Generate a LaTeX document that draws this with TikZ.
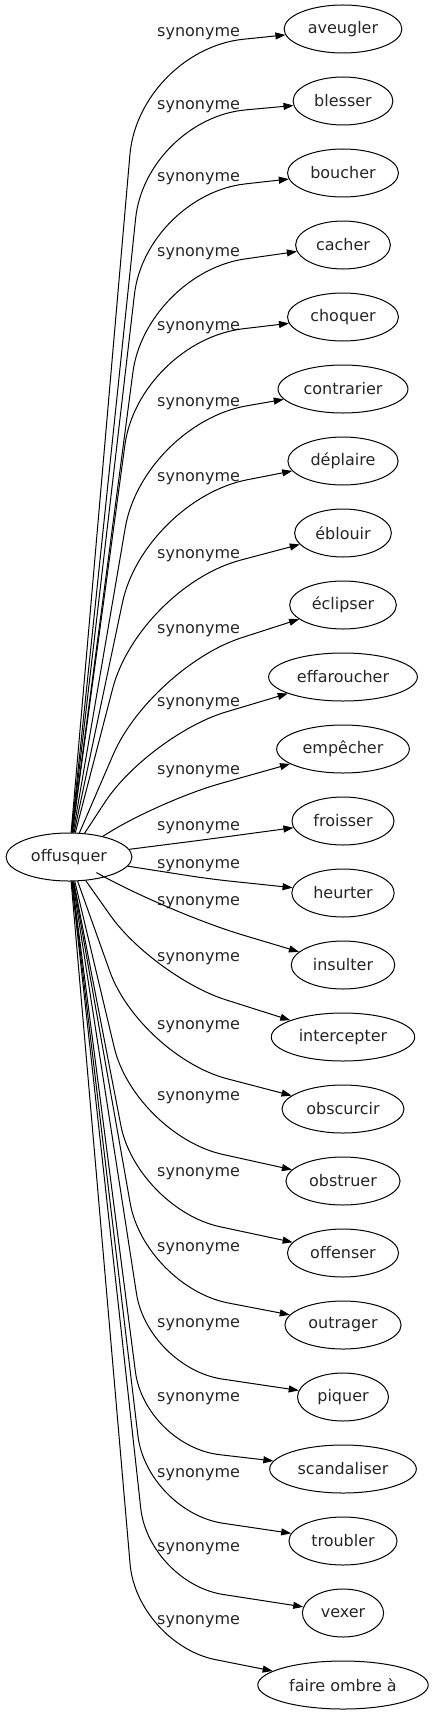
\documentclass[tikz,border=0pt]{standalone}
\usepackage{fontspec}
\setmainfont{DejaVu Sans}
\usetikzlibrary{arrows.meta,shapes.geometric}

\begin{document}
\begin{tikzpicture}[x=1pt,y=-1pt,
  every node/.style={font=\fontsize{16pt}{19pt}\selectfont, text=black!85},
  word/.style={draw, ellipse, line width=1pt, minimum height=48pt, inner xsep=6.5pt, inner ysep=2pt},
  syn/.style={-{Triangle[length=10pt,width=7pt]}, line width=1pt},
  lbl/.style={anchor=west, inner sep=0pt}]
  \useasboundingbox (0,0) rectangle (434,1715);
  \node[word] (offusquer) at (69,857) {offusquer};
  % name/text/bend x/bend y/radius/label y
  \foreach \nm/\txt/\kx/\ky/\rr/\ly [count=\i from 0] in {
    aveugler/aveugler/139/50/105/32,
    blesser/blesser/146/119/100/105,
    boucher/boucher/146/195/100/177,
    cacher/cacher/146/273/100/252,
    choquer/choquer/139/341/105/326,
    contrarier/contrarier/143/424/105/402,
    deplaire/déplaire/144/500/105/477,
    eblouir/éblouir/139/587/105/554,
    eclipser/éclipser/151/667/95/629,
    effaroucher/effaroucher/149/735/80/702,
    empecher/empêcher/162/800/60/770,
    froisser/froisser/210/839/20/826,
    heurter/heurter/210/879/20/864,
    insulter/insulter/166/912/80/901,
    intercepter/intercepter/154/977/75/957,
    obscurcir/obscurcir/140/1056/90/1025,
    obstruer/obstruer/135/1135/90/1096,
    offenser/offenser/137/1209/85/1172,
    outrager/outrager/145/1287/85/1247,
    piquer/piquer/148/1368/75/1323,
    scandaliser/scandaliser/145/1446/75/1397,
    troubler/troubler/147/1512/77/1473,
    vexer/vexer/149/1583/75/1547,
    faire/faire ombre à/137/1644/80/1620}{
    \node[word] (\nm) at (343,29+72*\i) {\txt};
    \node[lbl] (l\nm) at (157,\ly+2) {synonyme};
    \draw[syn, rounded corners=\rr pt] (offusquer) -- (\kx,\ky) -- (\nm);
  }
\end{tikzpicture}
\end{document}
